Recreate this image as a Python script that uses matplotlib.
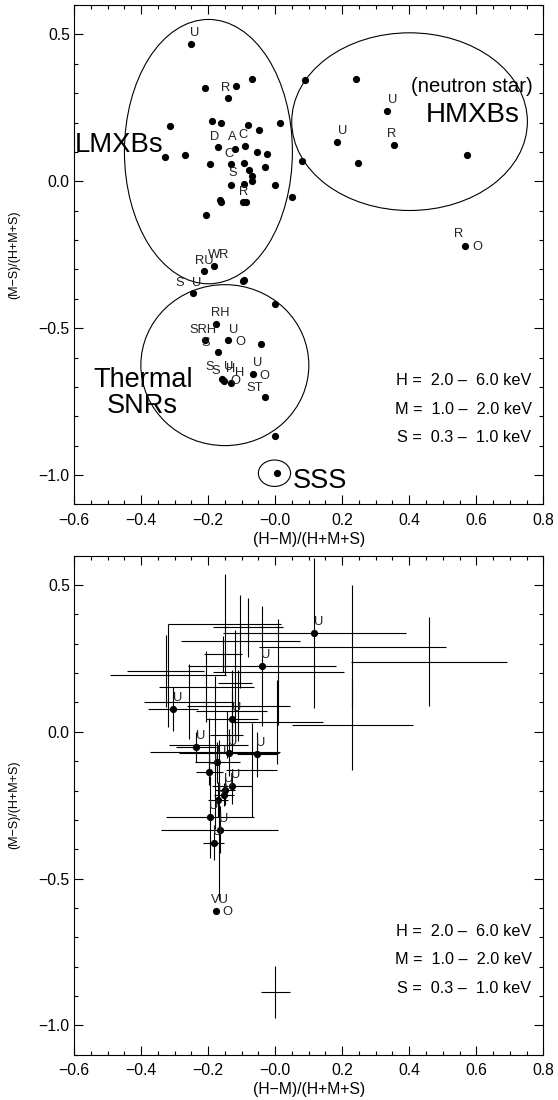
import matplotlib
matplotlib.use('Agg')
import matplotlib.pyplot as plt
from matplotlib.patches import Ellipse
from matplotlib.ticker import MultipleLocator, FixedLocator, FixedFormatter

plt.rcParams['font.family'] = ['Liberation Sans', 'DejaVu Sans']

# ---- top panel: hardness ratios of classified sources
hr_hm = [-0.252, -0.209, -0.118, -0.070, -0.141, -0.314, -0.189, -0.161, -0.082, -0.049,
         0.015, -0.171, -0.119, -0.089, -0.055, -0.023, -0.328, -0.268, -0.194, -0.133,
         -0.092, -0.031, -0.079, -0.069, -0.070, -0.092, -0.133, -0.001, -0.164, -0.161,
         -0.097, -0.087, 0.051, -0.206, -0.183, -0.212, -0.092, -0.095, -0.246, -0.001,
         -0.176, -0.209, -0.140, -0.041, -0.169, -0.159, -0.153, -0.133, -0.067, -0.029,
         0.000, 0.005, 0.088, 0.240, 0.335, 0.185, 0.354, 0.080, 0.246, 0.573, 0.566]
hr_ms = [0.468, 0.317, 0.323, 0.348, 0.283, 0.188, 0.204, 0.198, 0.192, 0.174,
         0.200, 0.118, 0.110, 0.121, 0.101, 0.094, 0.083, 0.089, 0.058, 0.058,
         0.062, 0.048, 0.038, 0.019, 0.001, -0.008, -0.012, -0.011, -0.063, -0.071,
         -0.069, -0.072, -0.054, -0.114, -0.290, -0.304, -0.335, -0.341, -0.382, -0.418,
         -0.485, -0.539, -0.540, -0.555, -0.581, -0.672, -0.679, -0.688, -0.656, -0.736,
         -0.866, -0.993, 0.345, 0.347, 0.239, 0.133, 0.124, 0.070, 0.062, 0.091, -0.220]
# catalogue flags: (source index, flag letter)
flags = [(0, 'U'), (4, 'R'), (11, 'D'), (12, 'A'), (13, 'C'), (19, 'C'), (26, 'S'),
         (30, 'R'), (34, 'WR'), (35, 'RU'), (38, 'S'), (38, 'U'), (40, 'RH'),
         (41, 'SRH'), (41, 'S'), (42, 'U'), (42, 'O'), (45, 'S'), (46, 'S'), (46, 'U'),
         (47, 'H'), (47, 'H'), (47, 'O'), (48, 'U'), (48, 'O'), (49, 'ST'),
         (54, 'U'), (55, 'U'), (56, 'R'), (60, 'R'), (60, 'O')]
flag_offsets = [(4, -11), (-2, -10), (-3, -10), (-3, -12), (-2, -11), (-2, -10), (2, -12),
                (1, -10), (5, -11), (0, -10), (-13, -10), (4, -10), (4, -11),
                (-2, -10), (1, 3), (5, -10), (12, 2), (-12, -12), (-8, -10), (5, -14),
                (0, -14), (9, -10), (5, -2), (5, -11), (12, 2), (-11, -9),
                (5, -11), (5, -11), (-2, -11), (-6, -12), (12, 1)]

# ---- bottom panel: unidentified sources with dots (flag U) and crosses only
u_hm = [0.117, -0.039, -0.304, -0.128, -0.235, -0.138, -0.055, -0.172, -0.197,
        -0.129, -0.150, -0.152, -0.170, -0.195, -0.165, -0.183, -0.177]
u_ms = [0.336, 0.225, 0.079, 0.045, -0.052, -0.072, -0.077, -0.104, -0.137,
        -0.186, -0.199, -0.214, -0.231, -0.290, -0.333, -0.378, -0.610]
u_hm_err = [0.273, 0.221, 0.075, 0.077, 0.060, 0.150, 0.060, 0.068, 0.040,
            0.060, 0.030, 0.030, 0.030, 0.132, 0.175, 0.031, 0.0]
u_ms_err = [0.255, 0.204, 0.075, 0.090, 0.050, 0.080, 0.077, 0.070, 0.045,
            0.060, 0.050, 0.040, 0.060, 0.140, 0.080, 0.060, 0.0]
u_flags = ['U'] * 16 + ['VU']

f_hm = [-0.151, -0.104, -0.082, 0.009, -0.320, -0.326, 0.230, 0.230, 0.458, -0.205,
        -0.257, -0.110, -0.156, 0.005, -0.130, -0.120, -0.198, -0.179, -0.070, -0.166, -0.145]
f_ms = [0.366, 0.308, 0.356, 0.205, 0.192, 0.207, 0.290, 0.022, 0.239, 0.154,
        0.103, 0.089, 0.265, 0.034, 0.070, 0.168, -0.044, -0.070, -0.130, -0.300, -0.010]
f_hm_err = [0.169, 0.178, 0.104, 0.195, 0.172, 0.115, 0.279, 0.180, 0.233, 0.142,
            0.133, 0.154, 0.056, 0.137, 0.107, 0.050, 0.118, 0.194, 0.076, 0.0, 0.050]
f_ms_err = [0.172, 0.157, 0.100, 0.181, 0.176, 0.122, 0.210, 0.153, 0.152, 0.120,
            0.129, 0.120, 0.060, 0.142, 0.140, 0.180, 0.090, 0.260, 0.160, 0.272, 0.080]

typ_hm, typ_ms, typ_hm_err, typ_ms_err = [0.0], [-0.887], [0.043], [0.088]

bands = ['H =  2.0 \u2013  6.0 keV', 'M =  1.0 \u2013  2.0 keV', 'S =  0.3 \u2013  1.0 keV']
xticks = [-0.6, -0.4, -0.2, 0.0, 0.2, 0.4, 0.6, 0.8]
xticklabels = ['\u22120.6', '\u22120.4', '\u22120.2', '\u22120.0', '0.2', '0.4', '0.6', '0.8']
yticks = [-1.0, -0.5, 0.0, 0.5]
yticklabels = ['\u22121.0', '\u22120.5', '0.0', '0.5']

fig = plt.figure(figsize=(5.58, 11.0), dpi=100)
ax1 = fig.add_axes([0.1326, 0.5415, 0.8411, 0.4539])
ax2 = fig.add_axes([0.1326, 0.0412, 0.8411, 0.4536])


def style(ax):
    ax.set_xlim(-0.6, 0.8)
    ax.set_ylim(-1.1, 0.6)
    ax.xaxis.set_major_locator(FixedLocator(xticks))
    ax.xaxis.set_major_formatter(FixedFormatter(xticklabels))
    ax.yaxis.set_major_locator(FixedLocator(yticks))
    ax.yaxis.set_major_formatter(FixedFormatter(yticklabels))
    ax.xaxis.set_minor_locator(MultipleLocator(0.05))
    ax.yaxis.set_minor_locator(MultipleLocator(0.1))
    ax.tick_params(which='both', direction='in', top=True, right=True, width=0.8,
                   labelsize=11.3)
    ax.tick_params(which='major', length=6.5)
    ax.tick_params(which='minor', length=3.2)
    ax.tick_params(axis='x', pad=6)
    ax.tick_params(axis='y', pad=3)
    for s in ax.spines.values():
        s.set_linewidth(0.8)
    ax.set_xlabel('(H\u2212M)/(H+M+S)', fontsize=11.3)
    ax.set_ylabel('(M\u2212S)/(H+M+S)', fontsize=9)
    ax.xaxis.set_label_coords(0.5, -0.055)
    ax.yaxis.set_label_coords(-0.115, 0.5)
    for i, b in enumerate(bands):
        ax.text(0.765, -0.68 - 0.097 * i, b, fontsize=11.7, ha='right', va='center')


style(ax1)
style(ax2)

# top panel
ax1.plot(hr_hm, hr_ms, 'o', color='black', markersize=5.2, markeredgewidth=0)
for (i, t), (dx, dy) in zip(flags, flag_offsets):
    ax1.annotate(t, (hr_hm[i], hr_ms[i]), xytext=(dx, -dy), textcoords='offset pixels',
                 fontsize=9.3, ha='center', va='center', color='#222222')

for cx, cy, w, h in [(-0.199, 0.101, 0.501, 0.900), (0.401, 0.203, 0.703, 0.605),
                     (-0.150, -0.626, 0.501, 0.548), (-0.002, -0.994, 0.096, 0.090)]:
    ax1.add_patch(Ellipse((cx, cy), w, h, fill=False, lw=0.8, color='black'))

ax1.text(-0.597, 0.124, 'LMXBs', fontsize=19.8, ha='left', va='center')
ax1.text(0.586, 0.322, '(neutron star)', fontsize=14.6, ha='center', va='center')
ax1.text(0.590, 0.226, 'HMXBs', fontsize=20, ha='center', va='center')
ax1.text(-0.395, -0.72, 'Thermal\nSNRs', fontsize=19.5, ha='center', va='center',
         linespacing=1.0)
ax1.text(0.053, -1.022, 'SSS', fontsize=19.5, ha='left', va='center')

# bottom panel
ax2.errorbar(f_hm, f_ms, xerr=f_hm_err, yerr=f_ms_err, fmt='none', ecolor='black',
             elinewidth=0.8, capsize=0)
ax2.errorbar(u_hm, u_ms, xerr=u_hm_err, yerr=u_ms_err, fmt='o', color='black',
             markersize=5.2, markeredgewidth=0, elinewidth=0.8, capsize=0)
ax2.errorbar(typ_hm, typ_ms, xerr=typ_hm_err, yerr=typ_ms_err, fmt='none',
             ecolor='black', elinewidth=0.8, capsize=0)
for x, y, t in zip(u_hm, u_ms, u_flags):
    ax2.annotate(t, (x, y), xytext=(4, 11), textcoords='offset pixels',
                 fontsize=9.3, ha='center', va='center', color='#222222')
ax2.annotate('O', (u_hm[-1], u_ms[-1]), xytext=(12, -1), textcoords='offset pixels',
             fontsize=9.3, ha='center', va='center', color='#222222')

fig.savefig('out.png', dpi=100)
